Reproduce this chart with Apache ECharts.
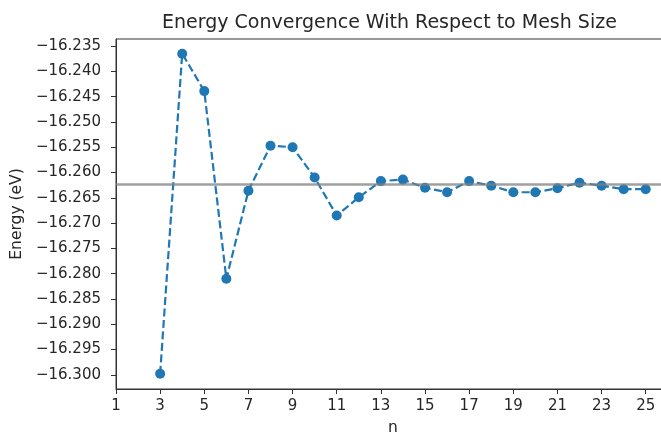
<!DOCTYPE html>
<html>
<head>
<meta charset="utf-8">
<style>
    html, body { margin: 0; padding: 0; background: #fff; }
    #chart { width: 661px; height: 434px; }
</style>
<script src="https://cdn.jsdelivr.net/npm/echarts@6/dist/echarts.min.js"></script>
</head>
<body>
<div id="chart"></div>
<script>
/* ── Data ─────────────────────────────────────────────────────────── */
const meshSizes = [3, 4, 5, 6, 7, 8, 9, 10, 11, 12, 13, 14, 15, 16, 17, 18, 19, 20, 21, 22, 23, 24, 25];
const energies = [
    -16.2998, -16.2365, -16.2439, -16.2810, -16.2636, -16.2547, -16.2550, -16.2610,
    -16.2685, -16.2649, -16.2617, -16.2614, -16.2630, -16.2639, -16.2617, -16.2626,
    -16.2639, -16.2639, -16.2631, -16.2620, -16.2626, -16.2633, -16.2633
];
const convergedEnergy = -16.2623;
const xTicks = [1, 3, 5, 7, 9, 11, 13, 15, 17, 19, 21, 23, 25];
const yTicks = [-16.300, -16.295, -16.290, -16.285, -16.280, -16.275, -16.270,
    -16.265, -16.260, -16.255, -16.250, -16.245, -16.240, -16.235];

/* ── Helpers ──────────────────────────────────────────────────────── */
const FONT = '"DejaVu Sans", sans-serif';
const INK = '#262626';

function fmtY(v) {
    return v.toFixed(3).replace('-', '\u2212');
}

/* ── Chart ────────────────────────────────────────────────────────── */
const chart = echarts.init(document.getElementById('chart'), null, { renderer: 'canvas' });

const option = {
    animation: false,
    backgroundColor: '#fff',
    textStyle: { fontFamily: FONT },
    title: {
        text: 'Energy Convergence With Respect to Mesh Size',
        left: 157,
        top: 9,
        textStyle: { fontFamily: FONT, fontSize: 19, fontWeight: 'normal', color: INK }
    },
    grid: {
        left: 116, right: -9, top: 39, bottom: 45,
        outerBoundsMode: 'none',
        containLabel: false,
        show: true, borderColor: '#333', borderWidth: 1
    },
    xAxis: {
        type: 'value',
        min: 1,
        max: 26.1,
        name: 'n',
        nameLocation: 'middle',
        nameGap: 31,
        nameTextStyle: { fontFamily: FONT, fontSize: 15.5, color: INK },
        splitLine: { show: false },
        axisLine: { show: true, lineStyle: { color: '#333', width: 1 } },
        axisTick: { show: true, length: 5, customValues: xTicks, lineStyle: { color: '#333' } },
        axisLabel: {
            customValues: xTicks,
            fontFamily: FONT, fontSize: 15, color: INK, margin: 10
        }
    },
    yAxis: {
        type: 'value',
        min: -16.3028,
        max: -16.2336,
        name: 'Energy (eV)',
        nameLocation: 'middle',
        nameGap: 91,
        nameTextStyle: { fontFamily: FONT, fontSize: 15.5, color: INK },
        splitLine: { show: false },
        axisLine: { show: true, lineStyle: { color: '#333', width: 1 } },
        axisTick: { show: true, length: 5, customValues: yTicks, lineStyle: { color: '#333' } },
        axisLabel: {
            customValues: yTicks,
            formatter: fmtY,
            fontFamily: FONT, fontSize: 15, color: INK, margin: 15
        }
    },
    series: [{
        type: 'line',
        data: meshSizes.map((n, i) => [n, energies[i]]),
        symbol: 'circle',
        symbolSize: 10,
        itemStyle: { color: '#1f77b4' },
        lineStyle: { color: '#1f77b4', width: 2.2, type: [8, 3.5] },
        markLine: {
            silent: true,
            symbol: 'none',
            precision: 4,
            label: { show: false },
            lineStyle: { color: 'rgba(128,128,128,0.75)', width: 2.5, type: 'solid' },
            data: [{ yAxis: convergedEnergy }]
        }
    }]
};

chart.setOption(option);
</script>
</body>
</html>
